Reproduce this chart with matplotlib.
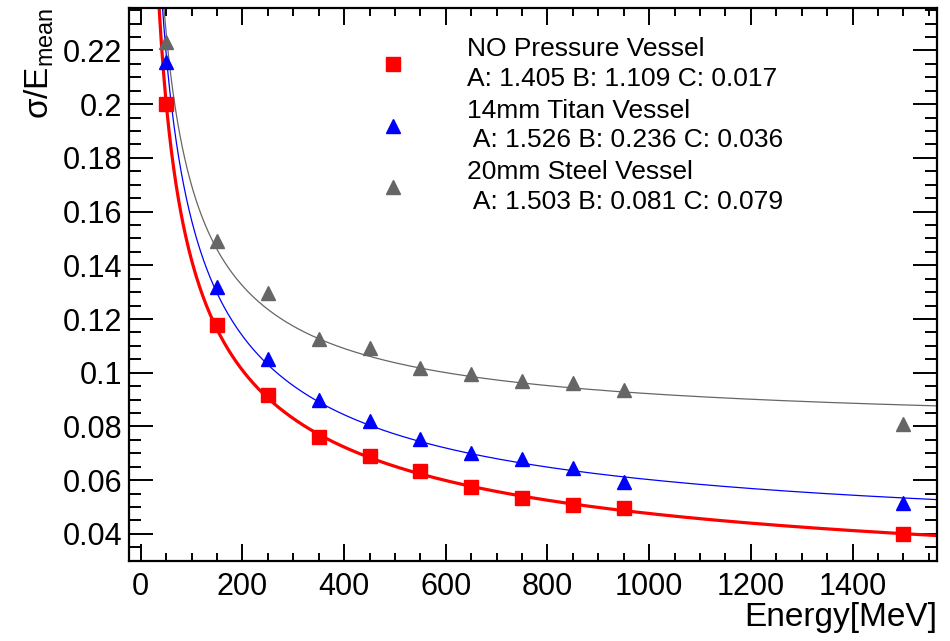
import numpy as np
import matplotlib.pyplot as plt
from matplotlib.ticker import MultipleLocator

plt.rcParams['font.family'] = ['Liberation Sans', 'DejaVu Sans']
plt.rcParams['mathtext.fontset'] = 'custom'
plt.rcParams['mathtext.rm'] = 'Liberation Sans'
plt.rcParams['mathtext.it'] = 'Liberation Sans:italic'

# energia do feixe (MeV)
energia = [50, 150, 250, 350, 450, 550, 650, 750, 850, 950, 1500]

res_sem_vaso = [0.200, 0.1178, 0.0918, 0.0762, 0.0691, 0.0635, 0.0575, 0.0535, 0.0507, 0.0497, 0.0400]
res_titanio = [0.2156, 0.1321, 0.1052, 0.0900, 0.0821, 0.0754, 0.0702, 0.0680, 0.0646, 0.0594, 0.0516]
res_aco = [0.2232, 0.1492, 0.1295, 0.1127, 0.1093, 0.1019, 0.0996, 0.0970, 0.0963, 0.0937, 0.0810]

# parametros do ajuste A, B, C
par_sem_vaso = [1.405, 1.109, 0.017]
par_titanio = [1.526, 0.236, 0.036]
par_aco = [1.503, 0.081, 0.079]

nomes = ['NO Pressure Vessel\nA: 1.405 B: 1.109 C: 0.017',
         '14mm Titan Vessel\n A: 1.526 B: 0.236 C: 0.036',
         '20mm Steel Vessel\n A: 1.503 B: 0.081 C: 0.079']


def ajuste(E, p):
    A, B, C = p
    return np.sqrt((A / np.sqrt(E))**2 + (B / E)**2 + C**2)


fig = plt.figure(figsize=(9.5, 6.41), dpi=100)
ax = fig.add_axes([129/950, 80/641, 808/950, 553/641])

E = np.linspace(20, 1566, 2000)
cinza = '#666666'

ax.plot(E, ajuste(E, par_aco), color=cinza, lw=0.9)
ax.plot(E, ajuste(E, par_titanio), color='#0000ff', lw=0.9)
ax.plot(E, ajuste(E, par_sem_vaso), color='#ff0000', lw=2.3)

h1, = ax.plot(energia, res_sem_vaso, 's', color='#ff0000', ms=10.5, ls='none')
h2, = ax.plot(energia, res_titanio, '^', color='#0000ff', ms=10.5, ls='none')
h3, = ax.plot(energia, res_aco, '^', color=cinza, ms=10.5, ls='none')

ax.set_xlim(-23, 1566)
ax.set_ylim(0.0299, 0.2358)

ax.xaxis.set_major_locator(MultipleLocator(200))
ax.xaxis.set_minor_locator(MultipleLocator(50))
ax.yaxis.set_major_locator(MultipleLocator(0.02))
ax.yaxis.set_minor_locator(MultipleLocator(0.005))
ax.yaxis.set_major_formatter(plt.FuncFormatter(lambda v, pos: ('%g' % round(v, 3))))

ax.tick_params(axis='both', which='both', direction='in', top=True, right=True, width=1.4)
ax.tick_params(axis='x', which='major', length=12, labelsize=22, pad=8)
ax.tick_params(axis='x', which='minor', length=6)
ax.tick_params(axis='y', which='major', length=17, labelsize=22, pad=5)
ax.tick_params(axis='y', which='minor', length=8.5)
for s in ax.spines.values():
    s.set_linewidth(1.6)

ax.set_xlabel('Energy[MeV]', fontsize=24, ha='right')
ax.xaxis.set_label_coords(1.0, -0.075)
ax.set_ylabel(r'$\mathregular{\sigma/E_{mean}}$', fontsize=24, ha='right')
ax.yaxis.set_label_coords(-0.09, 1.0)

leg = ax.legend([h1, h2, h3], nomes, loc='upper left', bbox_to_anchor=(380/950, 1 - 37/641),
                bbox_transform=fig.transFigure, frameon=False, fontsize=19, handlelength=1.0,
                handletextpad=2.3, borderpad=0, borderaxespad=0, labelspacing=0.3)
for t in leg.get_texts():
    t.set_linespacing(1.3)

plt.savefig('out.png', dpi=100)
